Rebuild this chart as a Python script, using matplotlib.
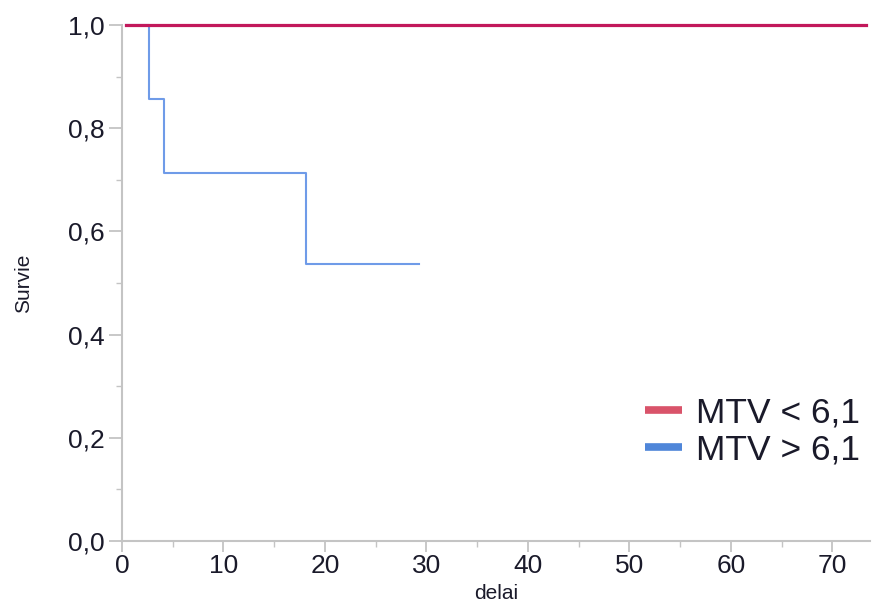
import matplotlib
matplotlib.use("Agg")
import matplotlib.pyplot as plt
from matplotlib.ticker import MultipleLocator, FuncFormatter
from matplotlib.lines import Line2D

plt.rcParams['font.family'] = ['Liberation Sans', 'DejaVu Sans']

# Data (Kaplan-Meier step curves)
low_times = [0.4, 73.3]
low_surv = [1.0, 1.0]
high_times = [0.4, 2.7, 4.1, 18.1, 29.3]
high_surv = [1.0, 0.857, 0.714, 0.536, 0.536]
labels = ["MTV < 6,1", "MTV > 6,1"]
line_colors = ["#C2185B", "#6F9BE8"]
legend_colors = ["#D9536A", "#4F86D9"]
xticks = [0, 10, 20, 30, 40, 50, 60, 70]
yticks = [0.0, 0.2, 0.4, 0.6, 0.8, 1.0]

fig = plt.figure(figsize=(8.81, 6.03), dpi=100)
ax = fig.add_axes([122/881, 1-541/603, (870-122)/881, (541-25)/603])

ax.step(high_times, high_surv, where='post', color=line_colors[1], lw=1.5, clip_on=False, zorder=3)
ax.step(low_times, low_surv, where='post', color=line_colors[0], lw=2.3, clip_on=False, zorder=4)

ax.set_xlim(0, 73.7)
ax.set_ylim(0, 1.0)

for s in ['top', 'right']:
    ax.spines[s].set_visible(False)
for s in ['left', 'bottom']:
    ax.spines[s].set_color('#C4C4C4')
    ax.spines[s].set_linewidth(1.5)

ax.set_xticks(xticks)
ax.set_yticks(yticks)
ax.xaxis.set_minor_locator(MultipleLocator(5))
ax.yaxis.set_minor_locator(MultipleLocator(0.1))
ax.yaxis.set_major_formatter(FuncFormatter(lambda v, p: f"{v:.1f}".replace('.', ',')))
ax.tick_params(which='major', length=9.5, width=1.3, color='#C4C4C4', labelsize=19, labelcolor='#1a1a2a')
ax.tick_params(axis='y', which='major', pad=3)
ax.tick_params(axis='x', which='major', length=8, pad=1.5)
ax.tick_params(which='minor', length=4, width=1.0, color='#C4C4C4')

ax.set_xlabel("delai", fontsize=15, labelpad=4, color='#1a1a2a')
ax.set_ylabel("Survie", fontsize=15, labelpad=25, color='#1a1a2a')

handles = [Line2D([0], [0], color=c, lw=5.5, solid_capstyle='butt') for c in legend_colors]
leg = ax.legend(handles, labels, loc='lower right', bbox_to_anchor=(0.987, 0.145), frameon=False,
                fontsize=25.5, handlelength=1.05, handletextpad=0.4, labelspacing=0.1,
                borderaxespad=0, borderpad=0)
for t in leg.get_texts():
    t.set_color('#1a1a2a')

fig.savefig("out.png", dpi=100)
